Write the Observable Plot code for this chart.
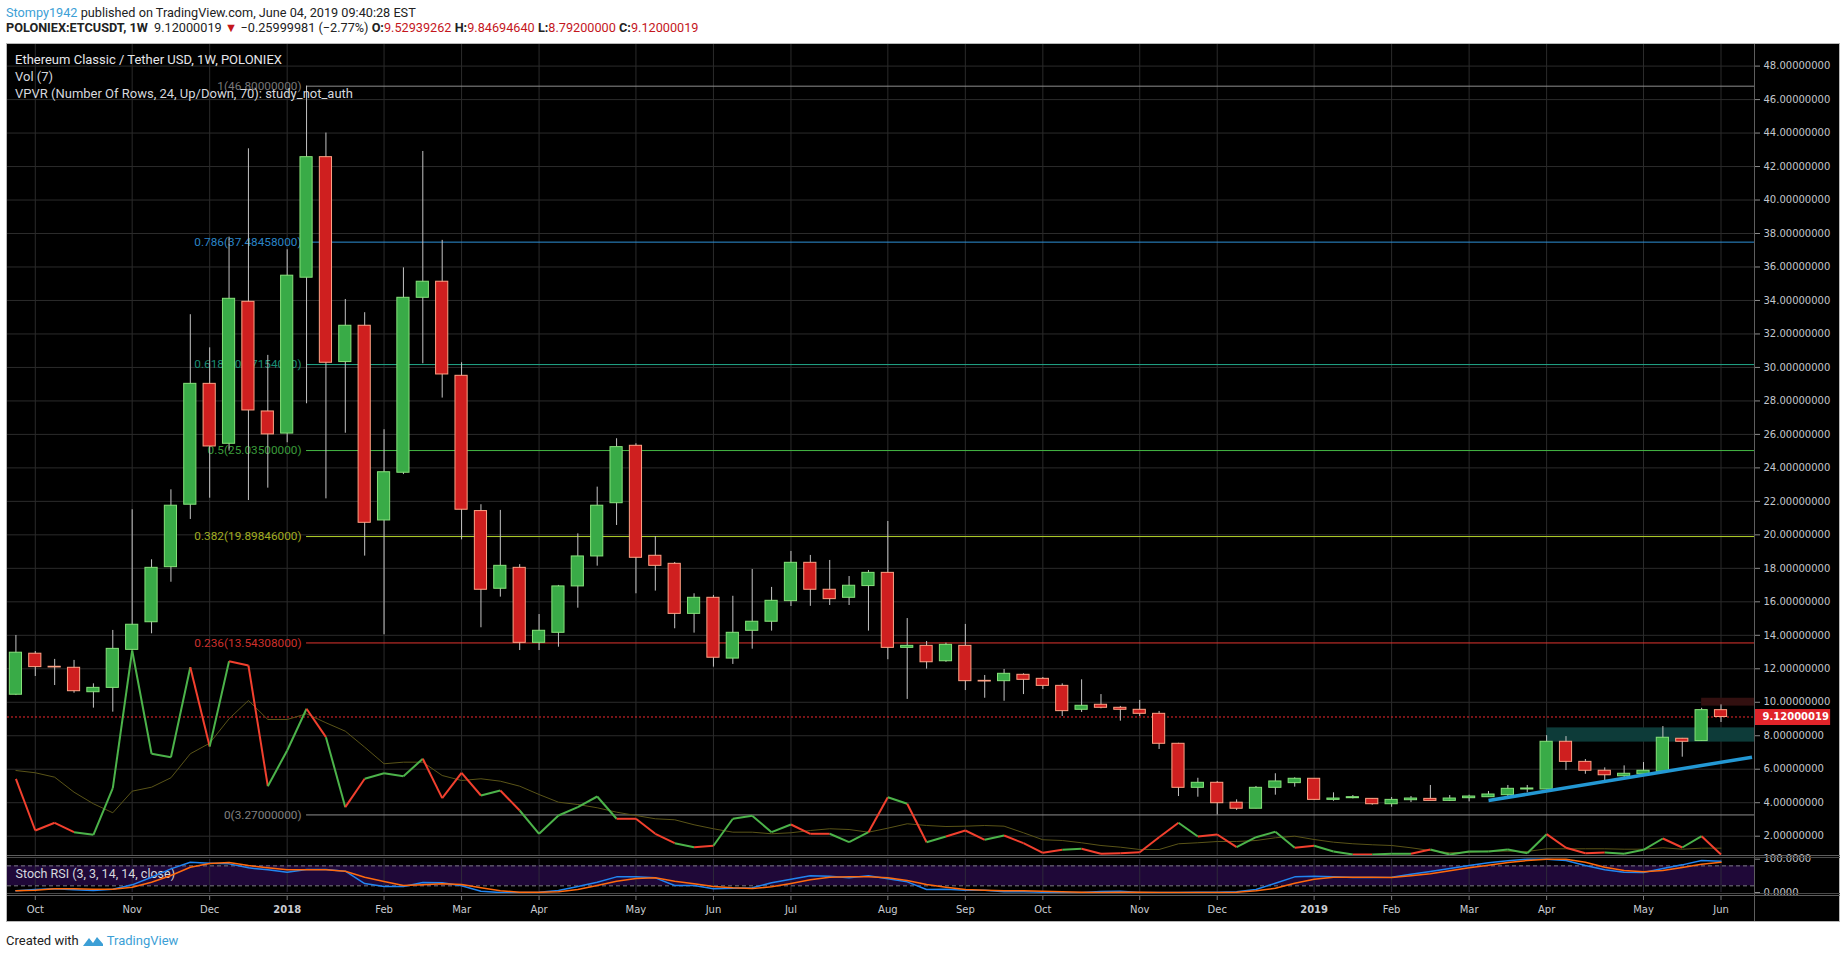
<!DOCTYPE html>
<html><head><meta charset="utf-8">
<script src="https://cdn.jsdelivr.net/npm/d3@7"></script>
<script src="https://cdn.jsdelivr.net/npm/@observablehq/plot@0.6"></script>
<style>
html,body{margin:0;padding:0;background:#fff;overflow:hidden;}
#page{position:relative;width:1840px;height:959px;overflow:hidden;font-family:Roboto,"Noto Sans",sans-serif;}
.abs{position:absolute;}
.hdr{position:absolute;left:6px;font-size:12.7px;line-height:16px;color:#222;white-space:nowrap;}
.hdr .u{color:#3c9fd6;}
.hdr .r{color:#c4161c;}
.leg{position:absolute;left:15px;font-size:13px;line-height:16px;color:#d6d8de;white-space:nowrap;}
.line{position:absolute;background:#555;}
</style></head>
<body><div id="page">
  <div class="hdr" style="top:5px"><span class="u">Stompy1942</span> published on TradingView.com, June 04, 2019 09:40:28 EST</div>
  <div class="hdr" style="top:20px"><b>POLONIEX:ETCUSDT, 1W</b>&nbsp; 9.12000019 <span class="r">▼</span> −0.25999981 (−2.77%) <b>O:</b><span class="r">9.52939262</span> <b>H:</b><span class="r">9.84694640</span> <b>L:</b><span class="r">8.79200000</span> <b>C:</b><span class="r">9.12000019</span></div>
  <div class="abs" style="left:6px;top:43px;width:1834px;height:879px;background:#000;border:1px solid #b8b8b8;box-sizing:border-box;"></div>
  <div id="price" class="abs" style="left:0;top:44px;"></div>
  <div id="vol" class="abs" style="left:0;top:44px;pointer-events:none;"></div>
  <div id="stoch" class="abs" style="left:0;top:855px;"></div>
  <div id="time" class="abs" style="left:0;top:895px;"></div>
  <div class="line" style="left:7px;top:855px;width:1833px;height:1px;background:#5e5e5e"></div>
  <div class="line" style="left:7px;top:857px;width:1833px;height:1px;background:#4a4a4a"></div>
  <div class="line" style="left:7px;top:893px;width:1833px;height:1px;background:#4a4a4a"></div>
  <div class="line" style="left:7px;top:895px;width:1833px;height:1px;background:#5e5e5e"></div>
  <div class="line" style="left:1754px;top:44px;width:1px;height:877px;background:#5e5e5e"></div>
  <div class="leg" style="top:52px;color:#e6e7ea">Ethereum Classic / Tether USD, 1W, POLONIEX</div>
  <div class="leg" style="top:69px">Vol (7)</div>
  <div class="leg" style="top:86px">VPVR (Number Of Rows, 24, Up/Down, 70): study_not_auth</div>
  <div class="hdr" style="top:933px;font-size:13px;display:flex;align-items:center;gap:3px">Created with
    <svg width="22" height="12" viewBox="0 0 22 12"><path d="M1 11 L7 3 L11 8 L15 2 L21 9 L21 11 Z" fill="#3c9fd6"/></svg><span class="u">TradingView</span></div>
</div>
<script>
// ---------- data ----------
const firstWeek = "2017-09-25";
const opens = [10.45,12.90,12.12,12.06,10.60,10.86,13.13,14.78,18.07,21.80, 29.02,25.44,33.92,27.37,26.05,35.36,42.56,30.32,32.49,20.86, 23.71,34.16,35.12,29.50,21.42,16.78,18.03,13.55,14.15,16.92, 18.71,21.89,25.32,18.75,18.27,15.28,16.24,12.61,14.27,14.81, 16.04,18.33,16.72,16.24,16.94,17.73,13.25,13.37,12.45,13.37, 11.28,11.26,11.64,11.40,10.98,9.55,9.85,9.67,9.55,9.31, 7.52,4.89,5.19,4.00,3.64,4.89,5.17,5.43,4.17,4.27, 4.23,3.91,4.15,4.23,4.11,4.27,4.33,4.45,4.79,4.79, 7.64,6.44,5.91,5.58,5.70,5.85,7.82,7.68,9.52939262];
const highs = [13.99,13.03,12.56,12.50,11.10,14.29,21.50,18.51,22.69,33.15, 31.17,37.78,43.06,30.72,37.03,46.80,44.00,34.06,33.27,26.28, 35.95,42.90,37.59,30.28,21.80,21.46,18.22,15.24,16.98,20.06, 22.85,25.74,25.44,19.90,18.35,16.48,16.38,16.33,17.93,16.86, 19.01,18.77,18.47,17.51,17.87,20.80,15.00,13.63,13.53,14.65, 11.60,11.96,11.70,11.48,11.10,11.34,10.46,9.75,10.11,9.45, 7.55,5.46,5.27,4.17,4.97,5.73,5.49,5.43,4.59,4.43, 4.25,4.31,4.37,5.03,4.43,4.45,4.67,5.03,5.03,8.01, 7.95,6.58,6.08,6.20,6.40,8.55,7.84,9.64,9.84694640];
const lows = [10.40,11.54,11.00,10.54,9.65,9.41,13.10,14.09,17.17,20.92, 22.19,25.00,22.05,22.79,25.50,27.83,22.15,26.07,18.73,14.03, 23.60,30.22,28.17,19.70,14.45,16.28,13.09,13.09,13.29,15.62, 18.13,20.56,16.48,16.64,14.39,14.13,12.10,12.26,13.17,14.25, 15.72,15.73,15.78,15.78,14.25,12.54,10.17,11.98,12.39,10.70, 10.24,10.06,10.46,10.76,9.15,9.39,9.61,8.87,9.15,7.18, 4.37,4.33,3.27,3.54,3.64,4.45,4.93,4.15,4.09,4.23, 3.85,3.73,4.01,4.11,4.07,4.05,4.31,4.33,4.59,4.77, 5.92,5.70,5.31,5.51,5.58,5.83,6.72,7.66,8.792];
const closes = [12.96,12.10,12.08,10.66,10.86,13.19,14.63,18.03,21.74,29.02, 25.28,34.10,27.43,26.00,35.48,42.56,30.28,32.49,20.72,23.74, 34.16,35.12,29.58,21.50,16.72,18.15,13.55,14.27,16.92,18.71, 21.74,25.24,18.63,18.15,15.28,16.24,12.66,14.15,14.81,16.06, 18.33,16.72,16.16,16.96,17.73,13.25,13.37,12.39,13.43,11.26, 11.24,11.70,11.34,10.98,9.47,9.79,9.67,9.55,9.31,7.52, 4.89,5.19,3.97,3.64,4.89,5.27,5.43,4.17,4.25,4.33, 3.91,4.17,4.25,4.11,4.25,4.37,4.49,4.83,4.85,7.64, 6.44,5.91,5.64,5.73,5.91,7.88,7.64,9.53,9.12000019];
const volumes = [1918,625,818,583,518,1683,5125,2543,2458,4708, 2725,4858,4750,1733,2625,3668,2958,1208,1918,2058, 1983,2418,1433,2068,1500,1625,1125,543,1000,1208, 1475,918,918,543,308,208,243,918,993,583, 775,543,543,333,583,1458,1293,333,475,625, 393,500,308,68,143,168,43,58,83,458, 818,475,525,208,458,593,193,243,100,25, 25,43,43,150,25,100,100,150,58,533, 193,58,75,43,143,425,200,483,25];
const volumeMA = [2125,2068,1958,1583,1293,1068,1608,1708,1943,2543, 2808,3418,3875,3400,3400,3543,3318,3108,2708,2293, 2333,2333,2000,1875,1918,1858,1733,1525,1333,1275, 1193,1083,1000,918,893,768,668,583,583,543, 568,625,668,650,583,683,793,750,725,733, 750,733,568,393,375,318,250,208,150,150, 293,318,350,350,375,443,483,400,333,293, 268,250,193,125,68,83,108,108,100,168, 168,168,168,158,158,193,158,183,183];
const stochK = [5,9,11,8,6,10,23,46,71,91, 88,86,74,68,61,69,69,64,27,18, 18,30,29,20,4,0,0,1,6,18, 31,47,47,44,21,21,11,13,14,29, 40,50,49,44,50,41,32,9,10,7, 7,2,2,1,0,0,3,4,0,0, 0,1,1,2,9,28,47,49,47,45, 45,46,55,63,72,81,89,95,100,100, 96,81,68,61,60,72,83,96,94];
const stochD = [5,7,11,11,10,10,16,31,51,76, 87,90,81,74,68,68,68,64,46,33, 21,23,26,24,14,5,1,1,2,9, 21,34,42,44,34,26,18,14,12,17, 27,38,46,47,47,44,36,24,16,9, 7,5,5,4,2,1,0,1,1,0, 0,0,0,1,5,13,28,40,46,46, 46,45,50,56,65,74,82,90,96,100, 100,91,76,66,62,66,75,85,91];
const priceTicks = [2,4,6,8,10,12,14,16,18,20,22,24,26,28,30,32,34,36,38,40,42,44,46,48];
const stochTicks = [0,100];
const stochBands = [20,80];
const monthTickDates = ["2017-10-02","2017-11-06","2017-12-04","2018-01-01","2018-02-05","2018-03-05","2018-04-02","2018-05-07","2018-06-04","2018-07-02","2018-08-06","2018-09-03","2018-10-01","2018-11-05","2018-12-03","2019-01-07","2019-02-04","2019-03-04","2019-04-01","2019-05-06","2019-06-03"];
const monthTickLabels = ["Oct","Nov","Dec","2018","Feb","Mar","Apr","May","Jun","Jul","Aug","Sep","Oct","Nov","Dec","2019","Feb","Mar","Apr","May","Jun"];
const fibRatios = [1,0.786,0.618,0.5,0.382,0.236,0];
const fibPrices = [46.8,37.48458,30.17154,25.035,19.89846,13.54308,3.27];
const fibLineColors = ["#8e8e8e","#2e90d6","#22a88a","#45b845","#b2d12b","#e0352f","#8e8e8e"];
const fibLabelColors = ["#777777","#2a84c6","#1b8e74","#3a9a3a","#a2ad22","#cc302c","#808080"];
const fibStartIndex = 15;
const zoneStartIndex = [79,87];
const zoneLow = [7.62,9.77];
const zoneHigh = [8.47,10.24];
const zoneColors = ["#0d3b39","#321010"];
const trendStartIndex = 76, trendEndWeeks = 89.6;
const trendPrices = [4.13,6.72];
const lastClose = 9.12000019;

// ---------- derived ----------
const DAY = 864e5;
const t0 = new Date(firstWeek + "T00:00:00Z");
const candles = opens.map((o, i) => ({
  date: new Date(+t0 + i * 7 * DAY), open: o, high: highs[i], low: lows[i], close: closes[i],
  up: closes[i] >= o, vol: volumes[i], volMA: volumeMA[i], k: stochK[i], d: stochD[i]
}));
const xDomain = [new Date(+t0 - 3.04 * DAY), new Date(+t0 + 628.1 * DAY)];
const tickDates = monthTickDates.map(s => new Date(s + "T00:00:00Z"));
const labelByTime = new Map(tickDates.map((d, i) => [+d, monthTickLabels[i]]));
const isYear = s => /^\d{4}$/.test(s);
const yearTicks = tickDates.filter((d, i) => isYear(monthTickLabels[i]));
const monthTicks = tickDates.filter((d, i) => !isYear(monthTickLabels[i]));
const fib = fibRatios.map((r, i) => ({ratio: r, price: fibPrices[i], line: fibLineColors[i], label: fibLabelColors[i], start: candles[fibStartIndex].date}));
const zones = zoneStartIndex.map((s, i) => ({from: candles[s].date, lo: zoneLow[i], hi: zoneHigh[i], fill: zoneColors[i]}));
const trend = [{x1: candles[trendStartIndex].date, y1: trendPrices[0], x2: new Date(+t0 + trendEndWeeks * 7 * DAY), y2: trendPrices[1]}];
const volSegs = candles.slice(1).map((c, i) => ({x1: candles[i].date, y1: candles[i].vol, x2: c.date, y2: c.vol, up: c.up}));

const UP = "#39ab47", UPB = "#86e27a", DN = "#cf1f1f", DNB = "#ffa285", GRID = "#2b2b2b";
const W = 1840, ML = 7, MR = 86;
const baseStyle = {background: "transparent", color: "#c3c6cd", fontFamily: "'DejaVu Sans', sans-serif", fontSize: "10px", overflow: "visible"};

const price = Plot.plot({
  width: W, height: 811, marginLeft: ML, marginRight: MR, marginTop: 0, marginBottom: 0,
  style: baseStyle,
  x: {type: "utc", domain: xDomain, axis: null},
  y: {domain: [0.847, 49.29], axis: null},
  color: {type: "identity"},
  marks: [
    Plot.ruleY(priceTicks, {stroke: GRID}),
    Plot.ruleX(tickDates, {stroke: GRID}),
    Plot.rect(zones, {x1: "from", x2: () => xDomain[1], y1: "lo", y2: "hi", fill: "fill"}),
    Plot.ruleY(fib, {y: "price", x1: "start", x2: () => xDomain[1], stroke: "line", strokeWidth: 1}),
    Plot.text(fib, {x: "start", y: "price", text: d => `${d.ratio}(${d.price.toFixed(8)})`, textAnchor: "end", dx: -5, fill: "label", fontFamily: "Roboto", fontSize: 11.8}),
    Plot.ruleY([lastClose], {y: d => d, stroke: "#f0282d", strokeDasharray: "2,2"}),
    Plot.ruleX(candles, {x: "date", y1: "low", y2: "high", stroke: "#c4c4c4", strokeWidth: 1}),
    Plot.rect(candles, {x1: d => new Date(+d.date - 3.5 * DAY), x2: d => new Date(+d.date + 3.5 * DAY), y1: "open", y2: "close",
      insetLeft: 3.6, insetRight: 3.6, fill: d => d.up ? UP : DN, stroke: d => d.up ? UPB : DNB, strokeWidth: 1}),
    Plot.link(trend, {x1: "x1", y1: "y1", x2: "x2", y2: "y2", stroke: "#2398d4", strokeWidth: 3.5}),
    Plot.axisY(priceTicks, {anchor: "right", tickSize: 5, tickPadding: 4, tickFormat: d => d.toFixed(8), stroke: "#8a8a8a"}),
    Plot.ruleY([lastClose], {y: d => d, x1: () => xDomain[1], x2: () => new Date(+xDomain[1] + 27.5 * DAY), stroke: "#e0242a", strokeWidth: 16}),
    Plot.text([lastClose], {y: d => d, x: () => xDomain[1], dx: 8, textAnchor: "start", text: d => d.toFixed(8), fill: "white", fontWeight: "bold"})
  ]
});
document.getElementById("price").appendChild(price);

const vol = Plot.plot({
  width: W, height: 811, marginLeft: ML, marginRight: MR, marginTop: 0, marginBottom: 0,
  style: baseStyle,
  x: {type: "utc", domain: xDomain, axis: null},
  y: {domain: [0, 20275], axis: null},
  color: {type: "identity"},
  marks: [
    Plot.line(candles, {x: "date", y: "volMA", stroke: "#5a5418", strokeWidth: 1}),
    Plot.link(volSegs, {x1: "x1", y1: "y1", x2: "x2", y2: "y2", stroke: d => d.up ? "#4cb34a" : "#f2402e", strokeWidth: 2})
  ]
});
document.getElementById("vol").appendChild(vol);

const stoch = Plot.plot({
  width: W, height: 40, marginLeft: ML, marginRight: MR, marginTop: 3.7, marginBottom: 3,
  style: baseStyle,
  x: {type: "utc", domain: xDomain, axis: null},
  y: {domain: [0, 100], axis: null},
  marks: [
    Plot.rect([stochBands], {y1: d => d[0], y2: d => d[1], fill: "#1f0838"}),
    Plot.ruleX(tickDates, {stroke: "#2e2a3a"}),
    Plot.ruleY(stochBands, {stroke: "#7d7b86", strokeDasharray: "4,3"}),
    Plot.text(["Stoch RSI (3, 3, 14, 14, close)"], {text: d => d, frameAnchor: "left", dx: 8, dy: -2, textAnchor: "start", fill: "#d6d8de", fontFamily: "Roboto", fontSize: 12.5}),
    Plot.line(candles, {x: "date", y: "k", stroke: "#2185f0", strokeWidth: 1.5}),
    Plot.line(candles, {x: "date", y: "d", stroke: "#ff6a0d", strokeWidth: 1.5}),
    Plot.axisY(stochTicks, {anchor: "right", tickSize: 5, tickPadding: 4, tickFormat: d => d.toFixed(4), stroke: "#8a8a8a"})
  ]
});
document.getElementById("stoch").appendChild(stoch);

const time = Plot.plot({
  width: W, height: 27, marginLeft: ML, marginRight: MR, marginTop: 1, marginBottom: 26,
  style: {...baseStyle, color: "#c9ccd2"},
  x: {type: "utc", domain: xDomain, axis: null},
  marks: [
    Plot.axisX(monthTicks, {anchor: "bottom", tickSize: 4, tickPadding: 5, tickFormat: d => labelByTime.get(+d), stroke: "#777"}),
    Plot.axisX(yearTicks, {anchor: "bottom", tickSize: 4, tickPadding: 5, tickFormat: d => labelByTime.get(+d), stroke: "#777", fontWeight: "bold"})
  ]
});
document.getElementById("time").appendChild(time);
</script>
</body></html>
